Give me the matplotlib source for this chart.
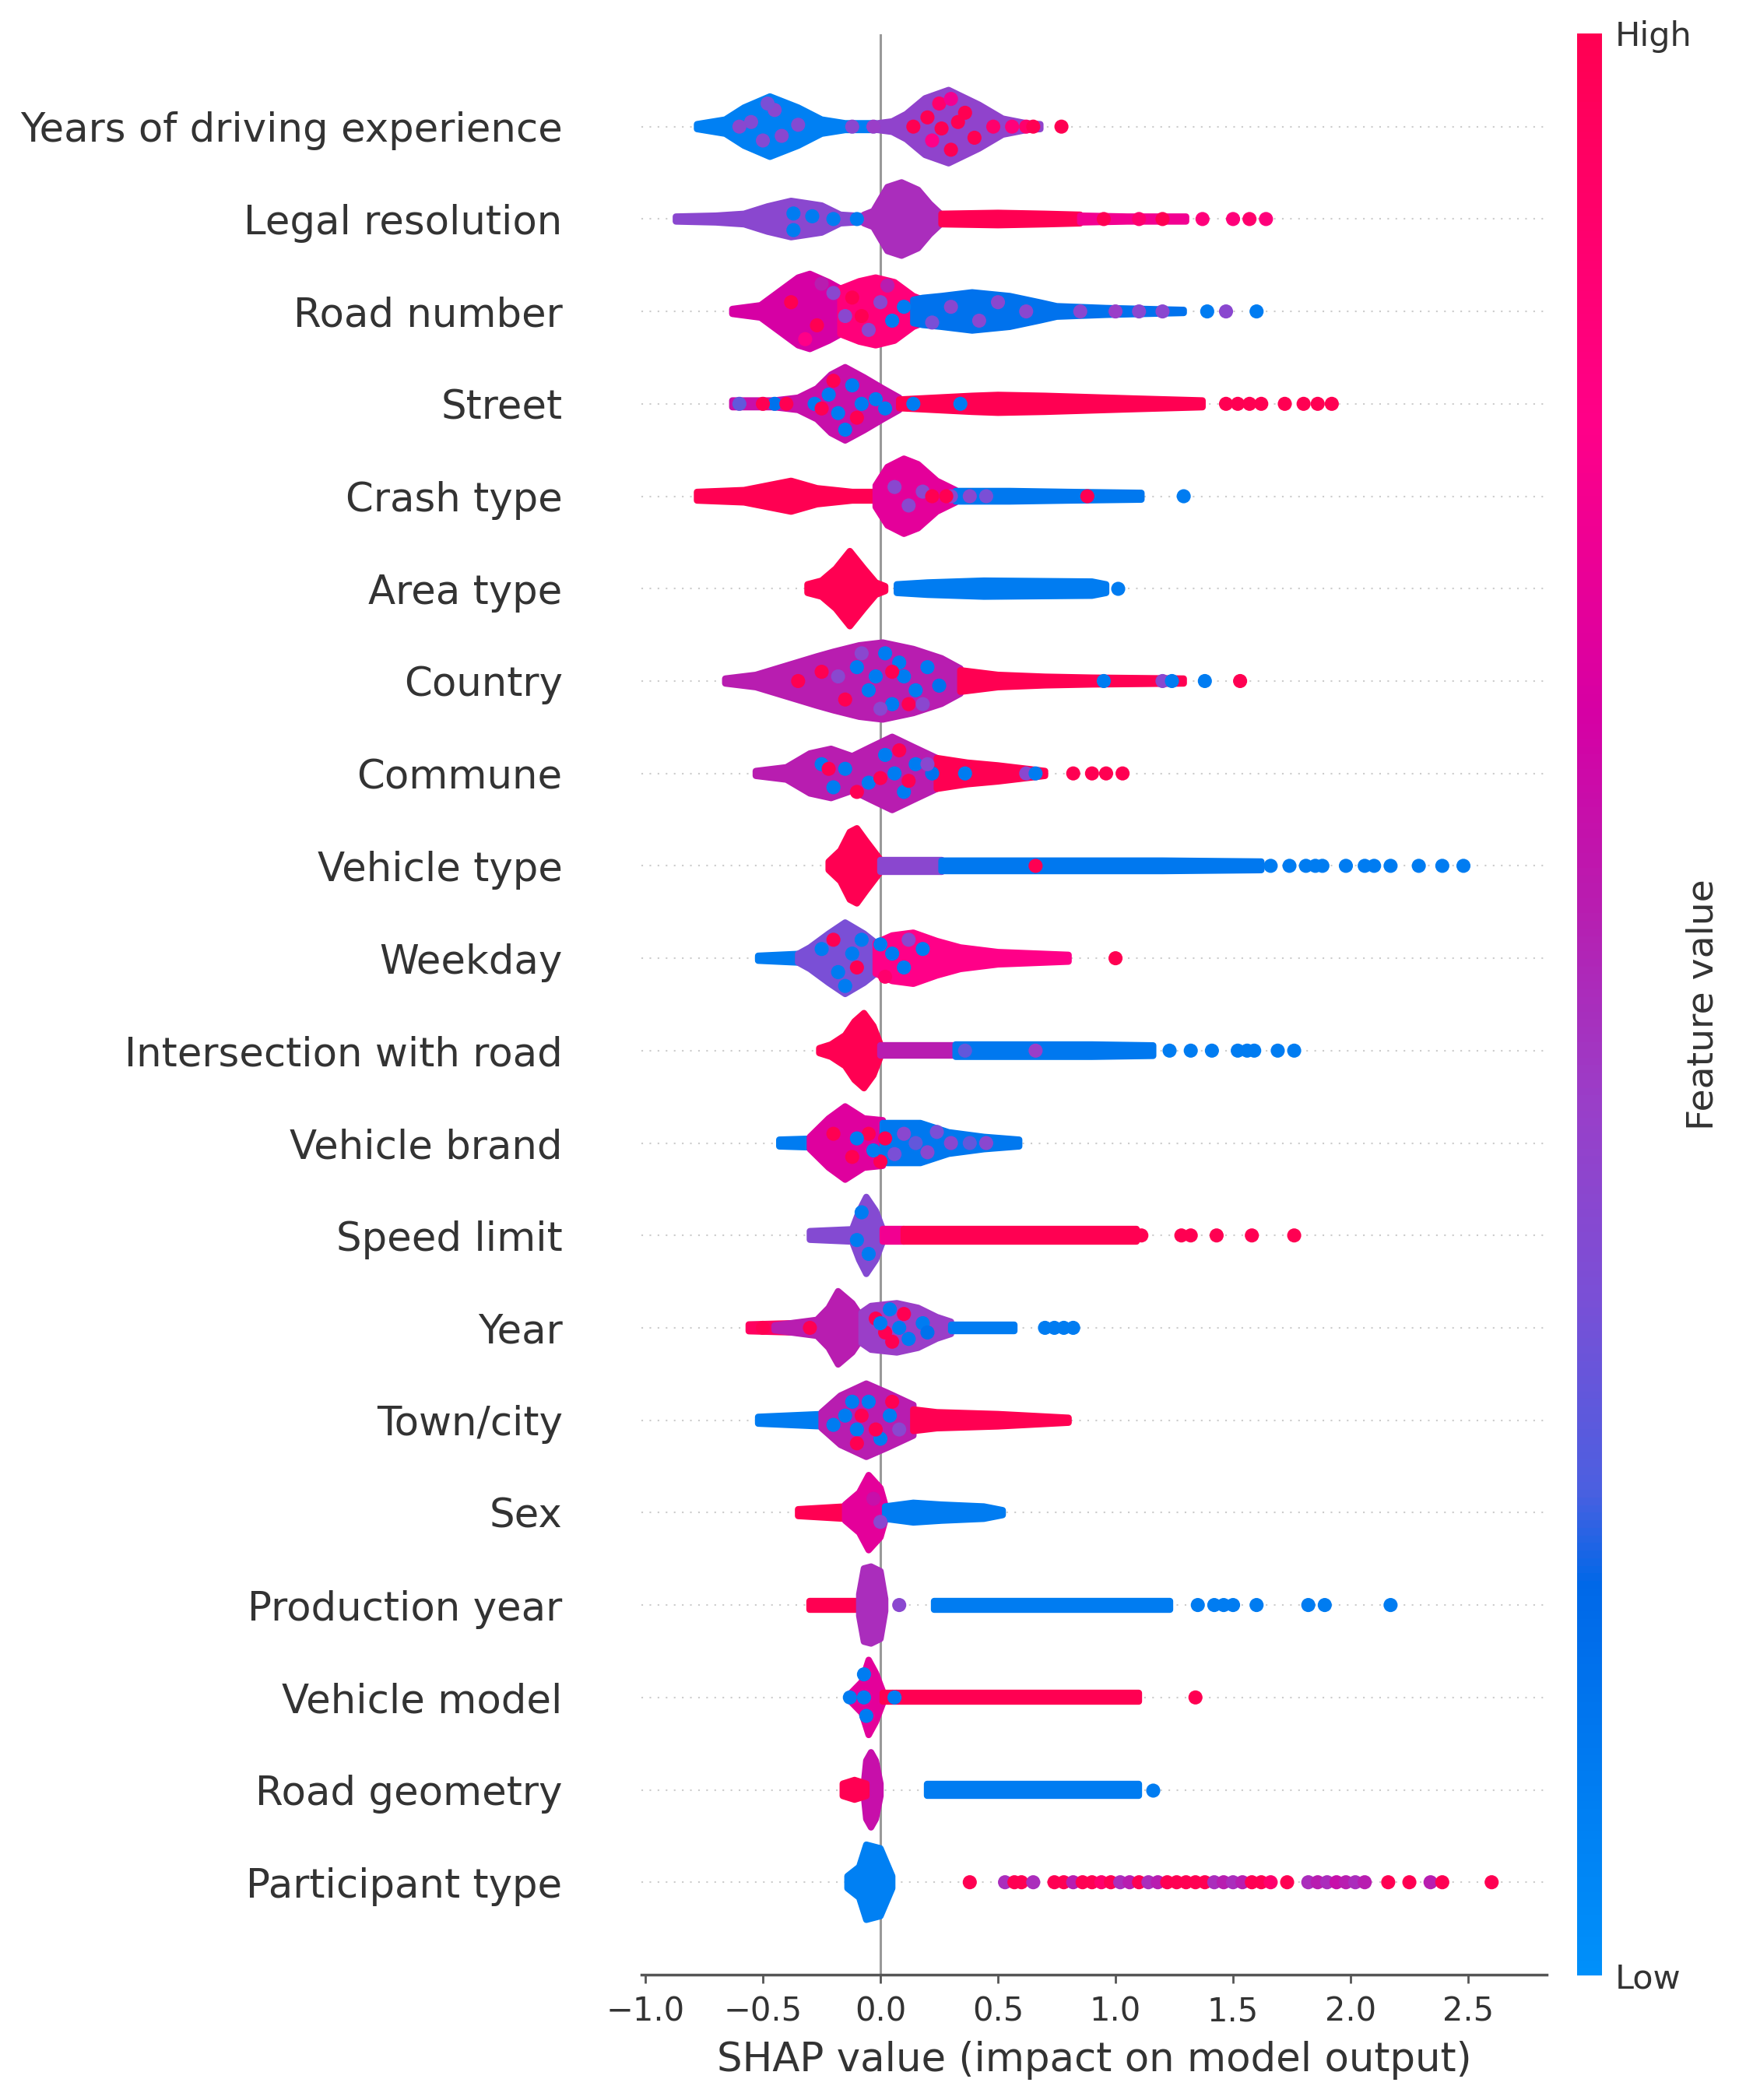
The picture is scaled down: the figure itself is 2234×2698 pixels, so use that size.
import numpy as np
import matplotlib
matplotlib.use("Agg")
import matplotlib.pyplot as plt
from matplotlib.colors import LinearSegmentedColormap, Normalize
from matplotlib.cm import ScalarMappable
from matplotlib.patches import Polygon

# features, top to bottom
features = ["Years of driving experience", "Legal resolution", "Road number", "Street",
            "Crash type", "Area type", "Country", "Commune", "Vehicle type", "Weekday",
            "Intersection with road", "Vehicle brand", "Speed limit", "Year", "Town/city",
            "Sex", "Production year", "Vehicle model", "Road geometry", "Participant type"]

# blobs: (feature value 0..1, SHAP knots, half height of the swarm in row units)
# dots: (SHAP value, vertical offset in rows, feature value)
years_blobs = [(0.08, [-0.78, -0.66, -0.58, -0.47, -0.35, -0.25, -0.15, -0.02], [0.06, 0.11, 0.24, 0.36, 0.24, 0.11, 0.07, 0.07]),
               (0.42, [-0.01, 0.05, 0.11, 0.19, 0.29, 0.42, 0.52, 0.62, 0.68], [0.07, 0.09, 0.17, 0.34, 0.43, 0.27, 0.12, 0.07, 0.06])]
years_dots = [(-0.55, 0.05, 0.38), (-0.45, 0.18, 0.4), (-0.42, -0.1, 0.4), (-0.35, 0.02, 0.38), (-0.5, -0.15, 0.38),
              (-0.6, 0.0, 0.4), (-0.12, 0.0, 0.4), (-0.03, 0.0, 0.45), (0.14, 0.0, 1.0), (0.2, 0.1, 1.0),
              (0.26, -0.02, 1.0), (0.33, 0.05, 1.0), (0.3, -0.25, 1.0), (0.36, 0.15, 1.0), (0.25, 0.25, 0.9),
              (0.4, -0.12, 1.0), (0.48, 0.0, 0.9), (0.56, 0.0, 0.85), (0.62, 0.0, 0.9), (0.65, 0.0, 1.0), (0.77, 0.0, 1.0),
              (0.22, -0.15, 0.8), (0.3, 0.3, 0.75), (-0.48, 0.25, 0.35)]

legal_blobs = [(0.4, [-0.87, -0.7, -0.58, -0.48, -0.38, -0.25, -0.17, -0.05], [0.06, 0.07, 0.09, 0.17, 0.23, 0.18, 0.08, 0.06]),
               (0.5, [-0.07, -0.03, 0.0, 0.03, 0.09, 0.16, 0.21, 0.26], [0.08, 0.12, 0.25, 0.38, 0.43, 0.35, 0.2, 0.08]),
               (1.0, [0.26, 0.5, 0.7, 0.85], [0.09, 0.1, 0.09, 0.08]),
               (0.75, [0.85, 1.05, 1.3], [0.07, 0.06, 0.06])]
legal_dots = [(-0.37, 0.06, 0.1), (-0.29, 0.03, 0.1), (-0.37, -0.12, 0.1), (-0.2, 0.0, 0.1), (-0.1, 0.0, 0.1),
              (0.55, 0.0, 1.0), (0.62, 0.0, 1.0), (0.95, 0.0, 1.0), (1.1, 0.0, 0.9), (1.2, 0.0, 1.0),
              (1.37, 0.0, 0.85), (1.5, 0.0, 0.85), (1.57, 0.0, 0.9), (1.64, 0.0, 0.85)]

road_number_blobs = [(0.65, [-0.63, -0.51, -0.43, -0.35, -0.3, -0.22, -0.17], [0.06, 0.1, 0.25, 0.4, 0.44, 0.35, 0.28]),
                     (0.85, [-0.17, -0.09, -0.02, 0.06, 0.14, 0.18], [0.28, 0.36, 0.4, 0.35, 0.2, 0.16]),
                     (0.15, [0.14, 0.18, 0.26, 0.39, 0.55, 0.68, 0.75, 0.96, 1.29], [0.16, 0.18, 0.2, 0.24, 0.2, 0.13, 0.09, 0.07, 0.05])]
road_number_dots = [(-0.38, 0.1, 1.0), (-0.27, -0.15, 1.0), (-0.2, 0.2, 0.4), (-0.15, -0.05, 0.4), (-0.12, 0.15, 1.0),
                    (-0.05, -0.2, 0.4), (0.0, 0.1, 0.4), (0.05, -0.1, 0.1), (0.1, 0.05, 0.1), (-0.08, -0.05, 1.0),
                    (0.3, 0.05, 0.4), (0.42, -0.1, 0.4), (0.5, 0.1, 0.4), (0.62, 0.0, 0.4), (0.85, 0.0, 0.4),
                    (1.0, 0.0, 0.45), (1.1, 0.0, 0.4), (1.2, 0.0, 0.4), (1.39, 0.0, 0.1), (1.47, 0.0, 0.4), (1.6, 0.0, 0.1),
                    (-0.32, -0.3, 0.8), (-0.25, 0.3, 0.55), (0.03, 0.28, 0.55), (0.22, -0.12, 0.35)]

street_blobs = [(0.6, [-0.63, -0.45, -0.35, -0.27, -0.21, -0.15, -0.07, 0.01, 0.08], [0.07, 0.07, 0.1, 0.2, 0.35, 0.43, 0.32, 0.2, 0.1]),
                (1.0, [0.08, 0.39, 0.5, 0.7, 1.09, 1.37], [0.08, 0.12, 0.13, 0.12, 0.09, 0.07])]
street_dots = [(-0.22, 0.1, 0.1), (-0.18, -0.1, 0.1), (-0.12, 0.2, 0.1), (-0.15, -0.28, 0.1), (-0.08, 0.0, 0.1),
               (-0.02, 0.05, 0.1), (0.02, -0.05, 0.1), (-0.28, 0.0, 0.1), (-0.45, 0.0, 0.15), (-0.6, 0.0, 0.3),
               (-0.2, 0.25, 1.0), (-0.25, -0.05, 1.0), (-0.1, -0.15, 1.0), (-0.5, 0.0, 1.0), (-0.4, 0.0, 1.0),
               (0.14, 0.0, 0.1), (0.34, 0.0, 0.1), (1.47, 0.0, 1.0), (1.52, 0.0, 1.0), (1.57, 0.0, 1.0),
               (1.62, 0.0, 1.0), (1.72, 0.0, 1.0), (1.8, 0.0, 1.0), (1.86, 0.0, 1.0), (1.92, 0.0, 1.0)]

crash_blobs = [(1.0, [-0.78, -0.58, -0.48, -0.38, -0.27, -0.12, 0.0], [0.08, 0.1, 0.15, 0.2, 0.12, 0.08, 0.08]),
               (0.7, [-0.02, 0.03, 0.1, 0.16, 0.24, 0.32], [0.15, 0.35, 0.44, 0.38, 0.2, 0.1]),
               (0.12, [0.32, 0.55, 0.8, 1.11], [0.09, 0.09, 0.08, 0.07])]
crash_dots = [(0.06, 0.1, 0.4), (0.12, -0.1, 0.4), (0.18, 0.05, 0.4), (0.3, 0.0, 0.4), (0.38, 0.0, 0.4),
              (0.45, 0.0, 0.35), (0.22, 0.0, 1.0), (0.28, 0.0, 1.0), (0.88, 0.0, 1.0), (1.29, 0.0, 0.1)]

area_blobs = [(1.0, [-0.31, -0.25, -0.19, -0.13, -0.07, -0.02, 0.02], [0.08, 0.12, 0.25, 0.44, 0.25, 0.1, 0.06]),
              (0.1, [0.07, 0.2, 0.44, 0.9, 0.96], [0.08, 0.1, 0.12, 0.11, 0.08])]
area_dots = [(1.01, 0.0, 0.1)]

country_blobs = [(0.55, [-0.66, -0.53, -0.4, -0.27, -0.2, -0.09, 0.01, 0.14, 0.26, 0.34], [0.06, 0.1, 0.2, 0.3, 0.35, 0.42, 0.45, 0.38, 0.28, 0.17]),
                 (1.0, [0.34, 0.5, 0.7, 0.9, 1.29], [0.15, 0.1, 0.08, 0.07, 0.06])]
country_dots = [(-0.1, 0.15, 0.1), (-0.05, -0.1, 0.1), (0.02, 0.3, 0.1), (0.05, -0.25, 0.1), (0.1, 0.05, 0.1),
                (0.15, -0.1, 0.1), (0.2, 0.15, 0.1), (0.08, 0.2, 0.1), (-0.02, 0.05, 0.1), (0.25, -0.05, 0.15),
                (-0.15, -0.2, 1.0), (-0.25, 0.1, 1.0), (0.12, -0.25, 1.0), (0.05, 0.1, 1.0), (-0.35, 0.0, 1.0),
                (0.0, -0.3, 0.4), (-0.08, 0.3, 0.4), (0.95, 0.0, 0.1), (1.2, 0.0, 0.4), (1.24, 0.0, 0.1),
                (1.38, 0.0, 0.1), (1.53, 0.0, 1.0), (-0.18, 0.05, 0.4), (0.18, -0.25, 0.4)]

commune_blobs = [(0.55, [-0.53, -0.4, -0.3, -0.21, -0.12, -0.04, 0.05, 0.14, 0.24], [0.06, 0.1, 0.25, 0.3, 0.22, 0.32, 0.43, 0.32, 0.2]),
                 (1.0, [0.24, 0.37, 0.5, 0.7], [0.2, 0.15, 0.12, 0.06])]
commune_dots = [(-0.25, 0.1, 0.1), (-0.2, -0.15, 0.1), (-0.15, 0.05, 0.1), (-0.05, -0.1, 0.1), (0.02, 0.2, 0.1),
                (0.06, 0.0, 0.1), (0.1, -0.2, 0.1), (0.15, 0.1, 0.1), (0.22, 0.0, 0.15), (0.36, 0.0, 0.1),
                (-0.22, 0.05, 1.0), (-0.1, -0.2, 1.0), (0.0, -0.05, 1.0), (0.08, 0.25, 1.0), (0.12, -0.08, 1.0),
                (0.2, 0.1, 0.4), (0.62, 0.0, 0.4), (0.66, 0.0, 0.1),
                (0.82, 0.0, 1.0), (0.9, 0.0, 1.0), (0.96, 0.0, 1.0), (1.03, 0.0, 1.0)]

vehicle_type_blobs = [(1.0, [-0.22, -0.17, -0.13, -0.1, -0.06, 0.0], [0.08, 0.2, 0.4, 0.44, 0.3, 0.1]),
                      (0.4, [0.0, 0.15, 0.26], [0.1, 0.1, 0.1]),
                      (0.12, [0.26, 0.6, 1.2, 1.62], [0.09, 0.09, 0.09, 0.08])]
vehicle_type_dots = [(0.66, 0.0, 1.0), (1.66, 0.0, 0.1), (1.74, 0.0, 0.1), (1.81, 0.0, 0.1), (1.85, 0.0, 0.1),
                     (1.88, 0.0, 0.1), (1.98, 0.0, 0.1), (2.06, 0.0, 0.1), (2.1, 0.0, 0.1), (2.17, 0.0, 0.1),
                     (2.29, 0.0, 0.1), (2.39, 0.0, 0.1), (2.48, 0.0, 0.1)]

weekday_blobs = [(0.1, [-0.52, -0.35, -0.3], [0.06, 0.08, 0.1]),
                 (0.35, [-0.35, -0.3, -0.22, -0.15, -0.07, -0.02], [0.08, 0.15, 0.3, 0.42, 0.3, 0.2]),
                 (0.8, [-0.02, 0.05, 0.14, 0.24, 0.34, 0.5, 0.8], [0.2, 0.28, 0.31, 0.22, 0.15, 0.1, 0.07])]
weekday_dots = [(-0.25, 0.1, 0.1), (-0.18, -0.15, 0.1), (-0.12, 0.05, 0.1), (-0.08, 0.2, 0.1), (-0.15, -0.3, 0.1),
                (0.05, 0.05, 0.1), (0.1, -0.1, 0.1), (0.18, 0.1, 0.1), (0.0, 0.15, 0.1), (-0.2, 0.2, 1.0),
                (-0.1, -0.1, 1.0), (0.02, -0.2, 0.9), (0.12, 0.2, 0.4), (1.0, 0.0, 1.0)]

intersection_blobs = [(1.0, [-0.26, -0.21, -0.15, -0.11, -0.07, -0.03, 0.0], [0.06, 0.1, 0.2, 0.35, 0.44, 0.3, 0.1]),
                      (0.55, [0.0, 0.2, 0.32], [0.09, 0.09, 0.09]),
                      (0.12, [0.32, 0.6, 0.9, 1.16], [0.1, 0.1, 0.1, 0.09])]
intersection_dots = [(0.36, 0.0, 0.3), (0.66, 0.0, 0.45), (1.23, 0.0, 0.1), (1.32, 0.0, 0.1), (1.41, 0.0, 0.1),
                     (1.52, 0.0, 0.1), (1.56, 0.0, 0.1), (1.59, 0.0, 0.1), (1.69, 0.0, 0.1), (1.76, 0.0, 0.1)]

brand_blobs = [(0.1, [-0.43, -0.3], [0.07, 0.08]),
               (0.68, [-0.3, -0.22, -0.15, -0.07, 0.01], [0.1, 0.3, 0.43, 0.3, 0.28]),
               (0.12, [0.01, 0.03, 0.17, 0.29, 0.44, 0.59], [0.25, 0.25, 0.25, 0.15, 0.1, 0.07])]
brand_dots = [(-0.2, 0.1, 1.0), (-0.12, -0.15, 1.0), (-0.05, 0.1, 1.0), (0.0, -0.2, 1.0), (0.02, 0.05, 1.0),
              (-0.1, 0.05, 0.1), (-0.03, -0.08, 0.1), (0.1, 0.1, 0.4), (0.2, -0.1, 0.4), (0.3, 0.0, 0.4), (0.45, 0.0, 0.4),
              (0.06, -0.12, 0.35), (0.15, 0.0, 0.3), (0.24, 0.12, 0.35), (0.38, 0.0, 0.3)]

speed_blobs = [(0.38, [-0.3, -0.12, -0.09, -0.06, -0.02, 0.01], [0.08, 0.1, 0.3, 0.45, 0.3, 0.1]),
               (0.75, [0.01, 0.1], [0.1, 0.1]),
               (1.0, [0.1, 0.6, 1.09], [0.1, 0.1, 0.1])]
speed_dots = [(-0.08, 0.25, 0.1), (-0.1, -0.05, 0.1), (-0.05, -0.2, 0.1), (1.11, 0.0, 1.0), (1.28, 0.0, 1.0),
              (1.32, 0.0, 1.0), (1.43, 0.0, 1.0), (1.58, 0.0, 1.0), (1.76, 0.0, 1.0)]

year_blobs = [(0.95, [-0.56, -0.27], [0.07, 0.09]),
              (0.55, [-0.45, -0.27, -0.22, -0.18, -0.12, -0.08], [0.06, 0.12, 0.25, 0.43, 0.3, 0.15]),
              (0.45, [-0.08, -0.04, 0.07, 0.16, 0.24, 0.3], [0.2, 0.27, 0.3, 0.25, 0.15, 0.1]),
              (0.1, [0.3, 0.57], [0.07, 0.07])]
year_dots = [(-0.5, 0.0, 1.0), (-0.3, 0.0, 1.0), (-0.02, 0.1, 1.0), (0.05, -0.15, 1.0), (0.1, 0.15, 1.0),
             (0.02, -0.05, 1.0), (0.0, 0.05, 0.1), (0.08, 0.0, 0.1), (0.12, -0.12, 0.1), (0.18, 0.05, 0.1),
             (0.04, 0.2, 0.1), (0.2, -0.05, 0.15), (0.7, 0.0, 0.1), (0.74, 0.0, 0.1), (0.78, 0.0, 0.1), (0.82, 0.0, 0.1)]

town_blobs = [(0.1, [-0.52, -0.25], [0.07, 0.1]),
              (0.55, [-0.25, -0.17, -0.06, 0.03, 0.14], [0.12, 0.3, 0.43, 0.33, 0.2]),
              (1.0, [0.14, 0.24, 0.5, 0.8], [0.15, 0.12, 0.1, 0.06])]
town_dots = [(-0.15, 0.05, 0.1), (-0.1, -0.1, 0.1), (-0.05, 0.2, 0.1), (0.0, -0.2, 0.1), (0.04, 0.05, 0.1),
             (-0.12, 0.2, 0.1), (-0.08, 0.05, 1.0), (-0.02, -0.1, 1.0), (-0.1, -0.25, 1.0), (0.05, 0.2, 1.0),
             (-0.2, -0.05, 0.1), (0.08, -0.1, 0.4)]

sex_blobs = [(1.0, [-0.35, -0.15], [0.07, 0.1]),
             (0.7, [-0.15, -0.09, -0.05, 0.0, 0.02], [0.12, 0.25, 0.44, 0.3, 0.12]),
             (0.1, [0.02, 0.14, 0.26, 0.44, 0.52], [0.1, 0.14, 0.12, 0.1, 0.06])]
sex_dots = [(0.0, -0.1, 0.4), (-0.03, 0.15, 0.6)]

production_blobs = [(1.0, [-0.3, -0.09], [0.08, 0.08]),
                    (0.5, [-0.09, -0.07, -0.04, 0.0, 0.02], [0.15, 0.43, 0.45, 0.4, 0.1]),
                    (0.1, [0.23, 0.6, 1.23], [0.08, 0.08, 0.08])]
production_dots = [(0.08, 0.0, 0.4), (1.35, 0.0, 0.1), (1.42, 0.0, 0.1), (1.46, 0.0, 0.1), (1.5, 0.0, 0.1),
                   (1.6, 0.0, 0.1), (1.82, 0.0, 0.1), (1.89, 0.0, 0.1), (2.17, 0.0, 0.1)]

model_blobs = [(0.7, [-0.13, -0.08, -0.05, -0.02, 0.01], [0.07, 0.2, 0.44, 0.3, 0.1]),
               (1.0, [0.01, 0.06, 0.6, 1.1], [0.08, 0.08, 0.08, 0.08])]
model_dots = [(-0.13, 0.0, 0.1), (-0.07, 0.25, 0.1), (-0.07, 0.0, 0.1), (0.06, 0.0, 0.1), (-0.06, -0.2, 0.1),
              (1.34, 0.0, 1.0)]

geometry_blobs = [(0.6, [-0.07, -0.06, -0.04, -0.02, 0.0], [0.1, 0.35, 0.44, 0.35, 0.1]),
                  (1.0, [-0.16, -0.11, -0.06], [0.1, 0.14, 0.1]),
                  (0.1, [0.2, 0.6, 1.1], [0.1, 0.1, 0.1])]
geometry_dots = [(1.16, 0.0, 0.1)]

participant_blobs = [(0.08, [-0.14, -0.09, -0.06, 0.0, 0.05], [0.1, 0.2, 0.44, 0.4, 0.1])]
participant_dots = [(0.38, 0.0, 1.0), (0.53, 0.0, 0.5), (0.57, 0.0, 1.0), (0.6, 0.0, 1.0), (0.65, 0.0, 0.5),
                    (0.74, 0.0, 1.0), (0.78, 0.0, 1.0), (0.82, 0.0, 0.55), (0.86, 0.0, 1.0), (0.9, 0.0, 1.0),
                    (0.94, 0.0, 0.9), (0.98, 0.0, 1.0), (1.02, 0.0, 0.5), (1.06, 0.0, 0.55), (1.1, 0.0, 1.0),
                    (1.14, 0.0, 0.5), (1.18, 0.0, 0.55), (1.22, 0.0, 1.0), (1.26, 0.0, 1.0), (1.3, 0.0, 1.0),
                    (1.34, 0.0, 1.0), (1.38, 0.0, 1.0), (1.42, 0.0, 0.5), (1.46, 0.0, 0.55), (1.5, 0.0, 0.5),
                    (1.54, 0.0, 0.55), (1.58, 0.0, 1.0), (1.62, 0.0, 1.0), (1.66, 0.0, 0.9), (1.73, 0.0, 1.0),
                    (1.82, 0.0, 0.5), (1.86, 0.0, 0.55), (1.9, 0.0, 0.5), (1.94, 0.0, 0.6), (1.98, 0.0, 0.55),
                    (2.02, 0.0, 0.5), (2.06, 0.0, 0.55), (2.16, 0.0, 1.0), (2.25, 0.0, 1.0), (2.34, 0.0, 0.55),
                    (2.39, 0.0, 1.0), (2.6, 0.0, 1.0)]

feature_blobs = [years_blobs, legal_blobs, road_number_blobs, street_blobs, crash_blobs, area_blobs,
                 country_blobs, commune_blobs, vehicle_type_blobs, weekday_blobs, intersection_blobs,
                 brand_blobs, speed_blobs, year_blobs, town_blobs, sex_blobs, production_blobs,
                 model_blobs, geometry_blobs, participant_blobs]
feature_dots = [years_dots, legal_dots, road_number_dots, street_dots, crash_dots, area_dots,
                country_dots, commune_dots, vehicle_type_dots, weekday_dots, intersection_dots,
                brand_dots, speed_dots, year_dots, town_dots, sex_dots, production_dots,
                model_dots, geometry_dots, participant_dots]

x_ticks = [-1.0, -0.5, 0.0, 0.5, 1.0, 1.5, 2.0, 2.5]

# shap-like red/blue colour map
red_blue = LinearSegmentedColormap.from_list("red_blue", [
    (0.0, "#0090fa"), (0.2, "#0068e8"), (0.25, "#4c5fe0"), (0.35, "#7a4fd6"),
    (0.45, "#9a3ec8"), (0.55, "#b81db0"), (0.65, "#d600a4"), (0.8, "#ff0088"),
    (1.0, "#ff0052")])

text_col = "#333333"
n = len(features)

fig = plt.figure(figsize=(22.34, 26.98), dpi=100)
ax = fig.add_axes([0.3688, 0.0597, 0.5206, 0.924])

edge_r = 0.034
for i, (blobs, dots) in enumerate(zip(feature_blobs, feature_dots)):
    yc = n - 1 - i
    ax.axhline(yc, color="#cccccc", lw=1.5, dashes=(1, 4), zorder=-2)
    for c, xs, hs in blobs:
        xs = np.array(xs)
        hs = np.maximum(np.array(hs) - edge_r, 0.004)
        verts = np.column_stack([np.r_[xs, xs[::-1]], np.r_[yc + hs, (yc - hs)[::-1]]])
        col = red_blue(c)
        ax.add_patch(Polygon(verts, closed=True, fc=col, ec=col, lw=6, joinstyle="round", zorder=3))
    d = np.array(dots)
    ax.scatter(d[:, 0], yc + d[:, 1], c=red_blue(d[:, 2]), s=170, lw=0, zorder=4)

ax.axvline(0, color="#999999", lw=2.2, zorder=-1)

ax.set_xlim(-1.017, 2.834)
ax.set_ylim(-1, n)
ax.set_yticks(range(n))
ax.set_yticklabels(features[::-1], fontsize=37, color=text_col)
ax.tick_params(axis="y", length=0, pad=73)
ax.set_xticks(x_ticks)
ax.set_xticklabels([f"{t:.1f}".replace("-", "\u2212") for t in x_ticks], fontsize=30, color=text_col)
ax.tick_params(axis="x", length=8, width=2, color="#555555", pad=11)
ax.set_xlabel("SHAP value (impact on model output)", fontsize=37, color=text_col, labelpad=12)
for s in ["left", "right", "top"]:
    ax.spines[s].set_visible(False)
ax.spines["bottom"].set_color("#555555")
ax.spines["bottom"].set_linewidth(2.5)

cax = fig.add_axes([0.9069, 0.0593, 0.0143, 0.9248])
cb = fig.colorbar(ScalarMappable(norm=Normalize(0, 1), cmap=red_blue), cax=cax, ticks=[0, 1])
cb.set_ticklabels(["Low", "High"])
cb.ax.tick_params(length=0, labelsize=31, pad=12, labelcolor=text_col)
cb.outline.set_visible(False)
cb.set_label("Feature value", size=34, color=text_col, labelpad=-6)

fig.savefig("out.png", dpi=100)
